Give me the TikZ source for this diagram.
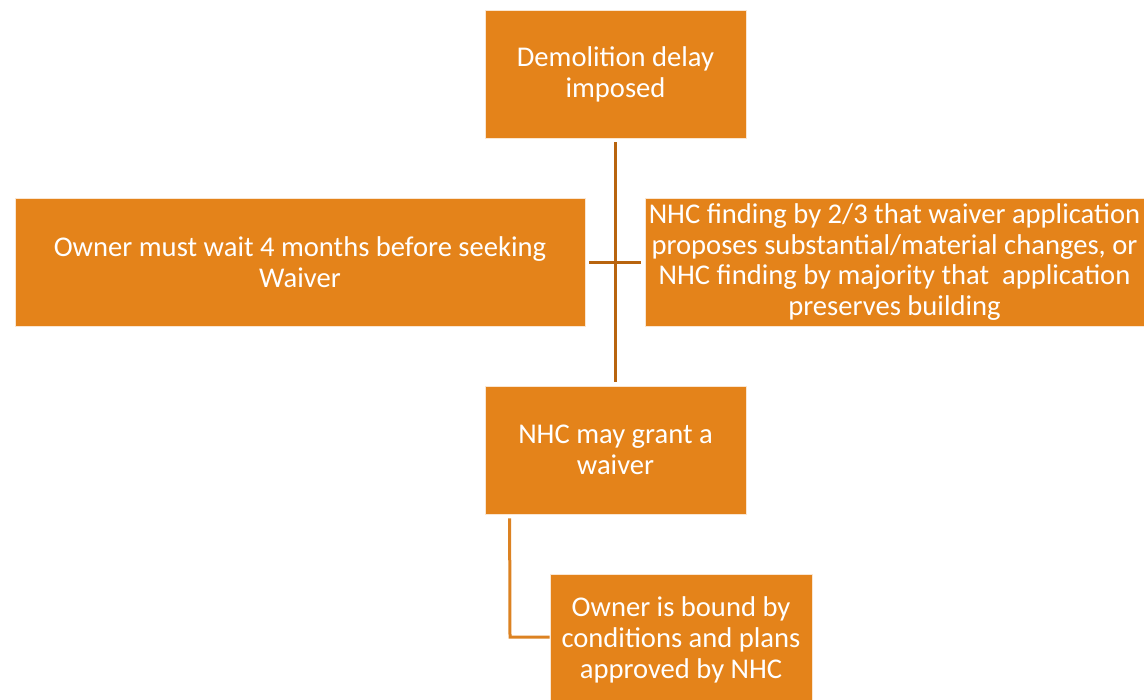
\documentclass[tikz,border=0pt]{standalone}
\usepackage{fontspec}
\setmainfont{Carlito}
\usetikzlibrary{positioning}
\definecolor{boxorange}{HTML}{E4831A}
\definecolor{linedark}{HTML}{B8640E}
\definecolor{linelight}{HTML}{DC8222}
\tikzset{
    x=0.5pt, y=-0.5pt,      % work in reference pixels
    every node/.style={
        align=center,
        text=white,
        font=\fontsize{14.3}{15.4}\selectfont,
    },
    stage/.style={          % default style for all boxes
        fill=boxorange,
        draw=white!80!boxorange,
        line width=0.4pt,
        inner sep=0pt,
        minimum height=64pt,
    },
    link/.style={           % trunk lines
        draw=linedark,
        line width=1.5pt,
    },
    branch/.style={         % side line to last box
        draw=linelight,
        line width=1.5pt,
    }
}
\begin{document}
\begin{tikzpicture}
                \useasboundingbox (0,0) rectangle (1144,700);
                \node[stage, minimum width=130.5pt] (delay) at (615.5,74) {Demolition delay\\imposed};
                \node[stage, minimum width=285pt] (wait) at (300,262) {Owner must wait 4 months before seeking\\Waiver};
                \node[stage, minimum width=249.5pt] (finding) at (894.5,262) {NHC finding by 2/3 that waiver application\\proposes substantial/material changes, or\\NHC finding by majority that\ \ application\\preserves building};
                \node[stage, minimum width=130.5pt] (grant) at (615.5,450) {NHC may grant a\\waiver};
                \node[stage, minimum width=131pt, minimum height=66pt] (bound) at (681,640) {Owner is bound by\\conditions and plans\\approved by NHC};
                \coordinate (bend) at (510,637);
                \draw[link, shorten <=2pt, shorten >=2pt] (delay) -- (grant);
                \draw[link, shorten <=2pt, shorten >=2pt] (wait) -- (finding);
                \draw[branch] ([xshift=12.5pt, yshift=-2pt]grant.south west) -- (bend) -- (bend -| bound.west);
            \end{tikzpicture}
\end{document}
